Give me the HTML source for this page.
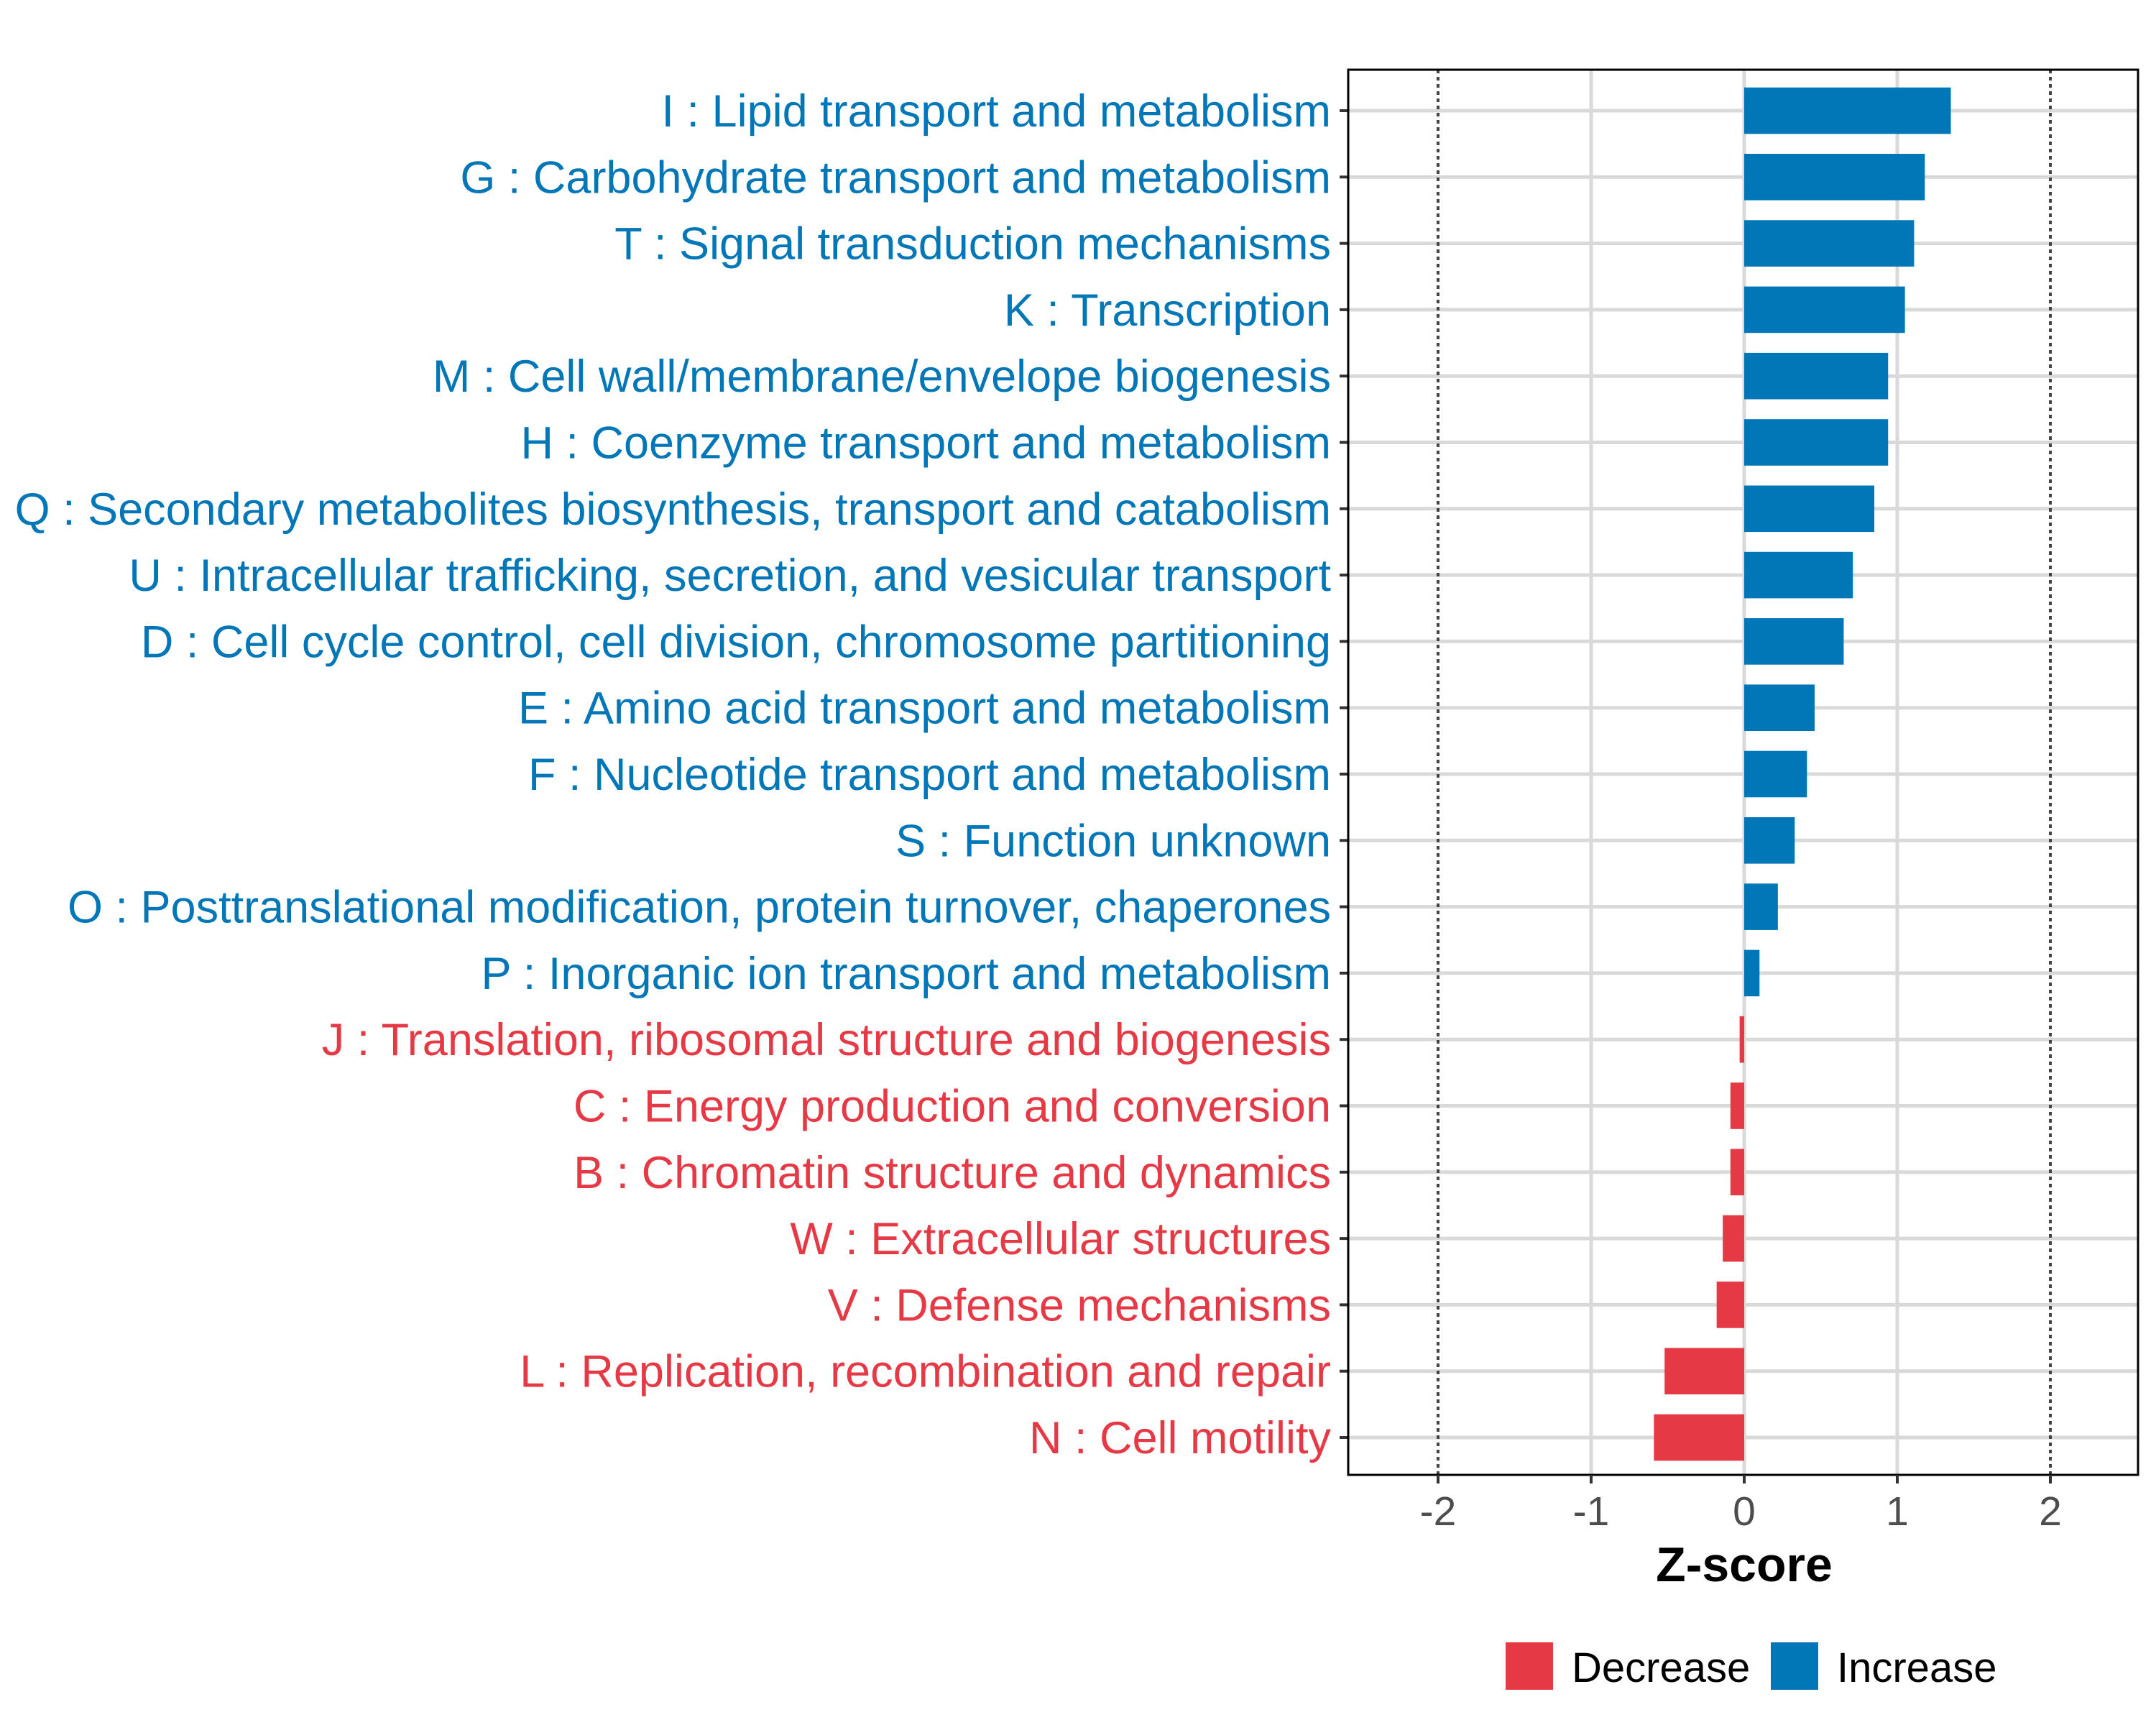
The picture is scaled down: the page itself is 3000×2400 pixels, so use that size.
<!DOCTYPE html>
<html><head><meta charset="utf-8"><style>
html,body{margin:0;padding:0;background:#fff;}
svg{display:block;font-family:"Liberation Sans",Arial,sans-serif;}
</style></head><body>
<svg id="chart" width="3000" height="2400" viewBox="0 0 3000 2400" xmlns="http://www.w3.org/2000/svg">
<rect width="3000" height="2400" fill="#fff"/>
<g id="grid"></g>
<g id="bars"></g>
<g id="labels"></g>
<g id="xaxis"></g>
<text x="2427" y="2200" font-size="68" font-weight="bold" text-anchor="middle" fill="#000">Z-score</text>
<g>
<rect x="2095" y="2285" width="66" height="66" fill="#E63946"/>
<text x="2187" y="2340" font-size="58" fill="#000">Decrease</text>
<rect x="2464" y="2285" width="66" height="66" fill="#0177B7"/>
<text x="2556" y="2340" font-size="58" fill="#000">Increase</text>
</g>
</svg>
<script>
const categories = ["I : Lipid transport and metabolism","G : Carbohydrate transport and metabolism","T : Signal transduction mechanisms","K : Transcription","M : Cell wall/membrane/envelope biogenesis","H : Coenzyme transport and metabolism","Q : Secondary metabolites biosynthesis, transport and catabolism","U : Intracellular trafficking, secretion, and vesicular transport","D : Cell cycle control, cell division, chromosome partitioning","E : Amino acid transport and metabolism","F : Nucleotide transport and metabolism","S : Function unknown","O : Posttranslational modification, protein turnover, chaperones","P : Inorganic ion transport and metabolism","J : Translation, ribosomal structure and biogenesis","C : Energy production and conversion","B : Chromatin structure and dynamics","W : Extracellular structures","V : Defense mechanisms","L : Replication, recombination and repair","N : Cell motility"];
const zscores = [1.35,1.18,1.11,1.05,0.94,0.94,0.85,0.71,0.65,0.46,0.41,0.33,0.22,0.10,-0.03,-0.09,-0.09,-0.14,-0.18,-0.52,-0.59];
const xTicks = [-2,-1,0,1,2];
const xTickLabels = ["-2","-1","0","1","2"];
const refLines = [-2,2];

const NS="http://www.w3.org/2000/svg";
const PL=1876, PR=2975, PT=97, PB=2052;
const X0=2427, UNIT=213;
function xs(v){return X0+v*UNIT;}
const firstY=154, lastY=2000;
function ys(i){return firstY+i*(lastY-firstY)/(categories.length-1);}
const step=(lastY-firstY)/(categories.length-1);
const BLUE="#0177B7", RED="#E63946";
function mk(tag,attrs,parent){const e=document.createElementNS(NS,tag);for(const k in attrs)e.setAttribute(k,attrs[k]);parent.appendChild(e);return e;}
const grid=document.getElementById('grid'), bars=document.getElementById('bars'), labels=document.getElementById('labels'), xaxis=document.getElementById('xaxis');
xTicks.forEach(t=>{
  if(refLines.includes(t))return;
  const l=mk('line',{x1:xs(t),x2:xs(t),y1:PT,y2:PB,stroke:'#d9d9d9','stroke-width':5},grid);
  
  
});
categories.forEach((c,i)=>{
  const l=mk('line',{x1:PL,x2:PR,y1:ys(i),y2:ys(i),stroke:'#d9d9d9','stroke-width':5},grid);
  
  
});
refLines.forEach(t=>{
  const l=mk('line',{x1:xs(t),x2:xs(t),y1:PT,y2:PB,stroke:'#444','stroke-width':4,'stroke-dasharray':'5,5'},grid);
  
  
});
const bh=step*0.7;
zscores.forEach((v,i)=>{
  const col=v>=0?BLUE:RED;
  const x=Math.min(xs(0),xs(v));
  const r=mk('rect',{x:x,y:ys(i)-bh/2,width:Math.abs(xs(v)-xs(0)),height:bh,fill:col},bars);
  
  
  const t=mk('text',{x:1852,y:ys(i)+22,'font-size':63,'text-anchor':'end',fill:col},labels);
  t.textContent=categories[i];
  
  
  const tk=mk('line',{x1:PL-12,x2:PL,y1:ys(i),y2:ys(i),stroke:'#333','stroke-width':4},labels);
  
  
});
const border=mk('rect',{x:PL,y:PT,width:PR-PL,height:PB-PT,fill:'none',stroke:'#000','stroke-width':3},xaxis);


xTicks.forEach((t,i)=>{
  const tk=mk('line',{x1:xs(t),x2:xs(t),y1:PB,y2:PB+12,stroke:'#333','stroke-width':4},xaxis);
  
  
  const tl=mk('text',{x:xs(t),y:PB+70,'font-size':57,'text-anchor':'middle',fill:'#4d4d4d'},xaxis);
  tl.textContent=xTickLabels[i];
  
  
});
</script>
</body></html>
